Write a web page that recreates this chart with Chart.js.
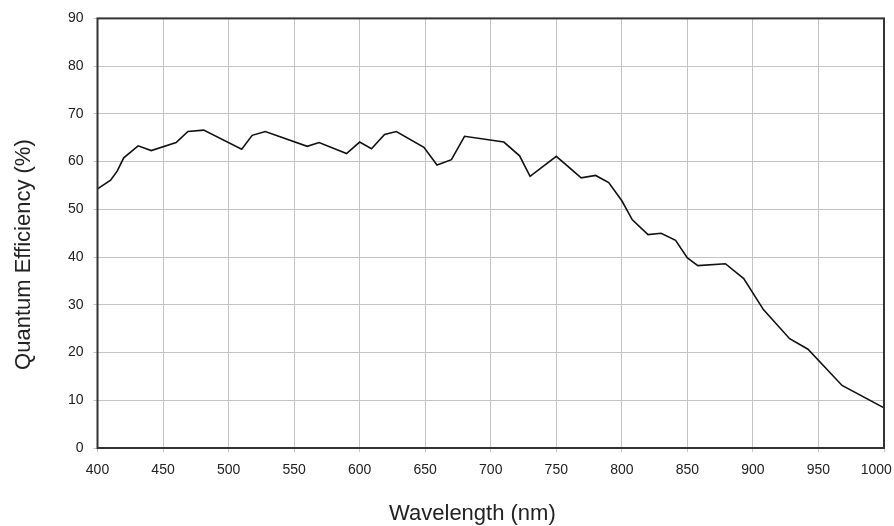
<!DOCTYPE html>
<html>
<head>
<meta charset="utf-8">
<script src="https://cdn.jsdelivr.net/npm/chart.js@4"></script>
<style>
  body { margin: 0; background: #fff; }
  #wrap { width: 894px; height: 526px; }
</style>
</head>
<body>
<div id="wrap"><canvas id="qeChart" width="894" height="526"></canvas></div>
<script>
// wavelength (nm) and quantum efficiency (%)
var wavelengths = [400, 410, 415, 420, 431, 441, 460, 469, 481, 510, 518, 528, 560, 569, 590, 600, 609, 619, 628, 649,
    659, 670, 680, 710, 722, 730, 750, 769, 780, 790, 800, 808, 820, 830, 841, 850, 858, 879, 893, 908, 928, 942, 968, 1000];
var efficiency = [54.3, 56.1, 58.0, 60.8, 63.3, 62.3, 64.0, 66.3, 66.6, 62.6, 65.5, 66.3, 63.2, 64.0, 61.7, 64.1, 62.7, 65.7, 66.3, 63.0,
    59.3, 60.4, 65.3, 64.1, 61.2, 56.9, 61.1, 56.6, 57.1, 55.6, 51.8, 47.8, 44.7, 45.0, 43.5, 39.8, 38.2, 38.6, 35.5, 29.0, 22.9, 20.7, 13.1, 8.4];
var xTicks = [400, 450, 500, 550, 600, 650, 700, 750, 800, 850, 900, 950, 1000];
var yTicks = [0, 10, 20, 30, 40, 50, 60, 70, 80, 90];

var fontFamily = '"Liberation Sans", Arial, sans-serif';
var gridColor = '#c4c4c4';

// box around the plot area
var frame = {
    id: 'frame',
    afterDraw: function(chart) {
        var a = chart.chartArea, c = chart.ctx;
        c.save();
        c.strokeStyle = '#333';
        c.lineWidth = 2;
        c.strokeRect(a.left, a.top, a.right - a.left, a.bottom - a.top);
        c.restore();
    }
};

var points = wavelengths.map(function(w, i) { return {x: w, y: efficiency[i]}; });

new Chart(document.getElementById('qeChart').getContext('2d'), {
    type: 'line',
    data: {
        datasets: [{
            data: points,
            borderColor: '#111',
            borderWidth: 1.6,
            pointRadius: 0,
            tension: 0,
            fill: false
        }]
    },
    options: {
        responsive: false,
        animation: false,
        layout: { padding: { top: 14, right: 10, left: 0, bottom: 0 } },
        plugins: { legend: { display: false }, tooltip: { enabled: false } },
        scales: {
            x: {
                type: 'linear',
                min: xTicks[0],
                max: xTicks[xTicks.length - 1],
                afterBuildTicks: function(s) { s.ticks = xTicks.map(function(v) { return {value: v}; }); },
                afterFit: function(s) { s.height = 78; s.paddingLeft = 0; s.paddingRight = 0; },
                ticks: {
                    autoSkip: false,
                    maxRotation: 0,
                    padding: 10,
                    color: '#222',
                    font: { family: fontFamily, size: 14 },
                    // last label sits pulled in from the right edge
                    callback: function(v) { return v === 1000 ? '1000    ' : String(v); }
                },
                grid: { color: gridColor, lineWidth: 1, tickLength: 4 },
                border: { display: false },
                title: {
                    display: true,
                    // trailing spaces nudge the title a little left of centre, as in the original
                    text: 'Wavelength (nm)      ',
                    color: '#222',
                    font: { family: fontFamily, size: 22 },
                    padding: { top: 0, bottom: -1 }
                }
            },
            y: {
                min: yTicks[0],
                max: yTicks[yTicks.length - 1],
                afterBuildTicks: function(s) { s.ticks = yTicks.map(function(v) { return {value: v}; }); },
                afterFit: function(s) { s.width = 97.5; },
                ticks: {
                    padding: 10,
                    color: '#222',
                    font: { family: fontFamily, size: 14 }
                },
                grid: { color: gridColor, lineWidth: 1, tickLength: 4 },
                border: { display: false },
                title: {
                    display: true,
                    text: 'Quantum Efficiency (%)       ',
                    color: '#222',
                    font: { family: fontFamily, size: 22 },
                    padding: { top: 11, bottom: 0 }
                }
            }
        }
    },
    plugins: [frame]
});
</script>
</body>
</html>
